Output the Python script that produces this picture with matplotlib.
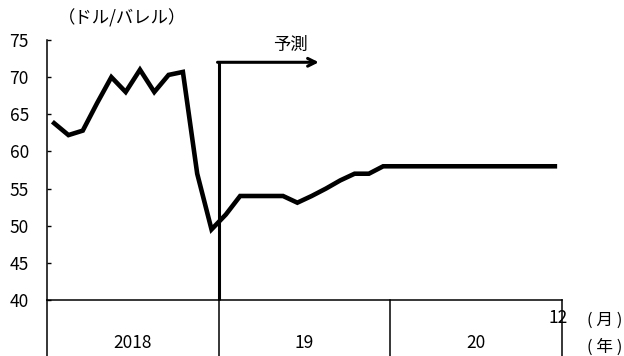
import matplotlib.pyplot as plt

plt.rcParams['font.family'] = ['Noto Sans CJK JP', 'DejaVu Sans']

# 2018年1月〜2020年12月 原油価格（月次, ドル/バレル）
prices = [63.8, 62.2, 62.8, 66.5, 70.0, 68.0, 71.0, 68.0, 70.3, 70.7, 57.0, 49.5,
          51.5, 54.0, 54.0, 54.0, 54.0, 53.1, 54.0, 55.0, 56.1, 57.0, 57.0, 58.0,
          58.0, 58.0, 58.0, 58.0, 58.0, 58.0, 58.0, 58.0, 58.0, 58.0, 58.0, 58.0]
years = ['2018', '19', '20']
yticks = [40, 45, 50, 55, 60, 65, 70, 75]
forecast_start = 12   # 予測開始（2019年1月）
forecast_level = 72
forecast_end = 19

fig = plt.figure(figsize=(6.24, 3.56), dpi=100)
ax = fig.add_axes([47 / 624, 56 / 356, 515 / 624, 260 / 356])

x = [i + 0.5 for i in range(len(prices))]
ax.plot(x, prices, color='black', lw=3.3, solid_joinstyle='miter')

ax.set_xlim(0, len(prices))
ax.set_ylim(40, 75)
ax.set_yticks(yticks)
ax.set_xticks([])
ax.tick_params(axis='y', direction='in', length=3, width=1, labelsize=12.5, pad=13)

for s in ['top', 'right']:
    ax.spines[s].set_visible(False)
ax.spines['left'].set_linewidth(1.1)
ax.spines['bottom'].set_linewidth(1.1)

# 年の区切り線
xt = ax.get_xaxis_transform()
for k in range(len(years) + 1):
    ax.plot([k * 12, k * 12], [-0.23, 0], color='black', lw=1.1,
            transform=xt, clip_on=False)
for k, yr in enumerate(years):
    ax.text(k * 12 + 6, -0.165, yr, transform=xt, ha='center', va='center', fontsize=12.5)

ax.text(35.7, -0.07, '12', transform=xt, ha='center', va='center', fontsize=12.5)
ax.text(1.083, -0.08, '( 月 )', transform=ax.transAxes, ha='center', va='center', fontsize=12)
ax.text(1.083, -0.18, '( 年 )', transform=ax.transAxes, ha='center', va='center', fontsize=12)
ax.text(0.146, 1.085, '（ドル/バレル）', transform=ax.transAxes, ha='center', va='center', fontsize=12.5)

# 予測の矢印
ax.plot([forecast_start, forecast_start], [40, forecast_level], color='black', lw=2.2,
        solid_capstyle='butt', clip_on=False)
ax.annotate('', xy=(forecast_end, forecast_level), xytext=(forecast_start - 0.08, forecast_level),
            arrowprops=dict(arrowstyle='->', lw=2.2, color='black', shrinkA=0, shrinkB=0,
                            mutation_scale=14))
ax.text(17.0, 74.3, '予測', ha='center', va='center', fontsize=12.5)

fig.savefig('out.png', dpi=100)
